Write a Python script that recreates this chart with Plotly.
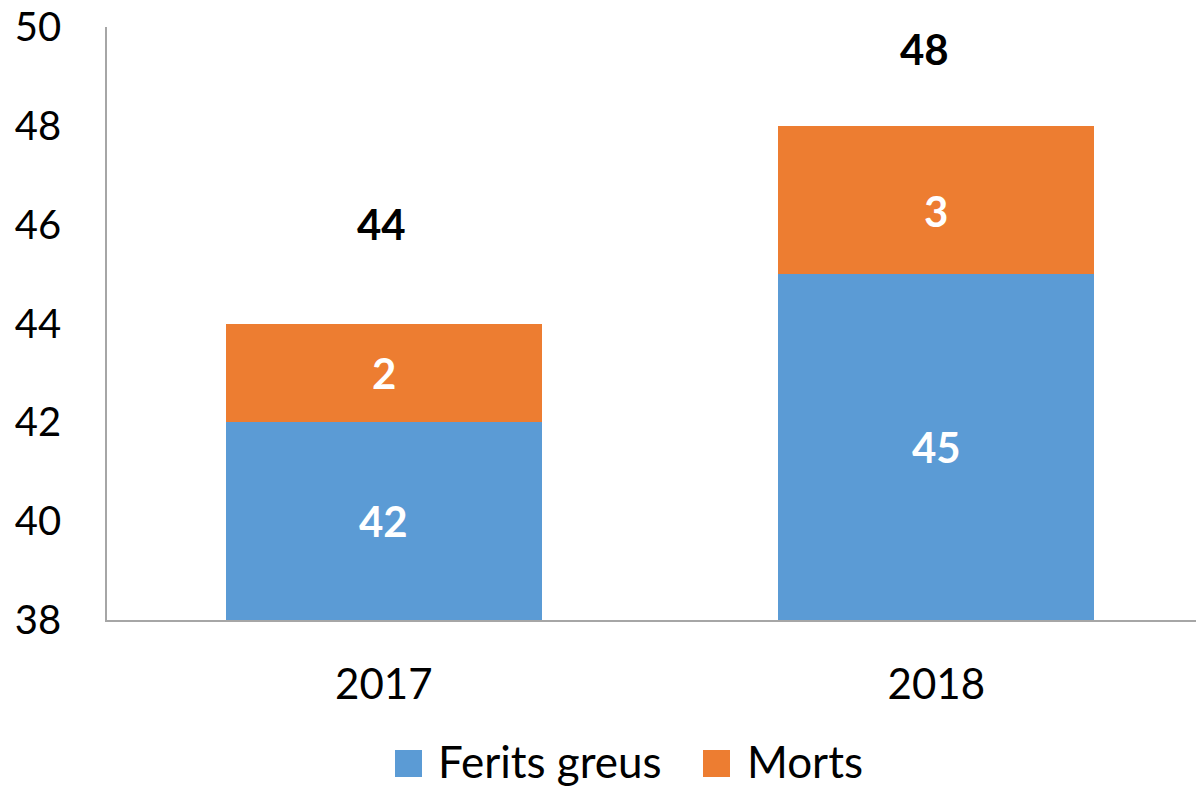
import plotly.graph_objects as go

years = ["2017", "2018"]
ferits = [42, 45]
morts = [2, 3]
totals = [a + b for a, b in zip(ferits, morts)]
y_ticks = [38, 40, 42, 44, 46, 48, 50]
series_names = ["Ferits greus", "Morts"]

FONT = "Lato, 'Open Sans', sans-serif"
BLUE = "#5B9BD5"
ORANGE = "#ED7D31"
Y_MIN, Y_MAX = 38, 50

xs = list(range(len(years)))

fig = go.Figure()
fig.add_trace(go.Bar(
    x=xs, y=ferits, name=series_names[0], marker_color=BLUE,
    width=0.572, showlegend=False, marker_line_width=0,
))
fig.add_trace(go.Bar(
    x=xs, y=morts, name=series_names[1], marker_color=ORANGE,
    width=0.572, showlegend=False, marker_line_width=0,
))

# labels inside the (visible part of the) blue bars
for x, v in zip(xs, ferits):
    fig.add_annotation(x=x, y=(Y_MIN + v) / 2, text=f"<b>{v}</b>", showarrow=False,
                       font=dict(size=42, color="white", family=FONT))

# labels inside the orange segments
orange_offsets = [0.0, -0.22]
for x, b, m, off in zip(xs, ferits, morts, orange_offsets):
    fig.add_annotation(x=x, y=b + m / 2 + off, text=f"<b>{m}</b>", showarrow=False,
                       font=dict(size=42, color="white", family=FONT))

# totals above the stacks
offsets = [2.02, 1.56]
xshifts = [-2, -12]
for x, tot, off, xs_ in zip(xs, totals, offsets, xshifts):
    fig.add_annotation(x=x, y=tot + off, text=f"<b>{tot}</b>", showarrow=False,
                       xshift=xs_, font=dict(size=42, color="black", family=FONT))

# legend drawn manually (large square swatches)
legend_items = [(series_names[0], BLUE, 395, 436), (series_names[1], ORANGE, 703, 745)]
for name, col, sx, tx in legend_items:
    fig.add_shape(type="rect", xref="paper", yref="paper",
                  x0=(sx - 107) / 1089, x1=(sx + 27 - 107) / 1089,
                  y0=(620 - 777) / 593, y1=(620 - 750) / 593,
                  fillcolor=col, line_width=0)
    fig.add_annotation(xref="paper", yref="paper", x=(tx - 107) / 1089, y=(620 - 761) / 593,
                       xanchor="left", yanchor="middle", text=name, showarrow=False,
                       font=dict(size=44, color="black", family=FONT))

fig.update_layout(
    barmode="stack",
    width=1196, height=786,
    margin=dict(l=107, r=0, t=27, b=166),
    paper_bgcolor="white", plot_bgcolor="white",
    font=dict(family=FONT, size=40, color="black"),
    showlegend=False,
)
fig.update_xaxes(range=[-0.501, 1.47], tickvals=xs, ticktext=years, showline=True,
                 linecolor="#A6A6A6", linewidth=1.5, ticks="", showgrid=False,
                 zeroline=False, tickfont=dict(size=42), ticklabelstandoff=27,
                 automargin=False)
fig.update_yaxes(range=[Y_MIN, Y_MAX], tickvals=y_ticks, showline=True, linecolor="#A6A6A6",
                 linewidth=1.5, ticks="", showgrid=False, zeroline=False,
                 tickfont=dict(size=40), ticklabelstandoff=36, automargin=False)

fig.write_html("out.html", config={"displayModeBar": False},
               post_script="document.body.style.margin='0';document.body.style.padding='0';")
